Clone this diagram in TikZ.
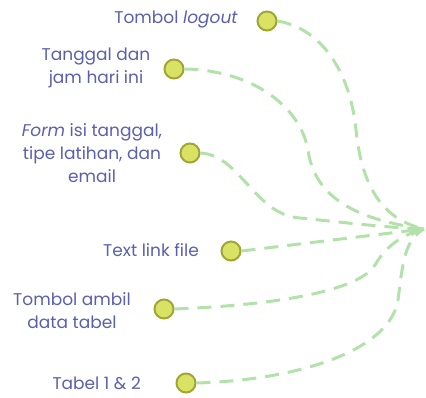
\documentclass[tikz,border=0pt]{standalone}
\usepackage{fontspec}
\setmainfont{Poppins}
\usetikzlibrary{arrows.meta}
\definecolor{labelblue}{HTML}{5A5FAE}
\definecolor{dotfill}{HTML}{D9E263}
\definecolor{dotedge}{HTML}{9FA635}
\definecolor{linkgreen}{HTML}{B2E2A9}
\tikzset{
  dot/.style={circle, fill=dotfill, draw=dotedge, line width=2pt, minimum size=19pt, inner sep=0pt},
  lbl/.style={text=labelblue, font=\fontsize{17}{23}\selectfont, align=center, inner sep=0pt},
  link/.style={draw=linkgreen, line width=3pt, dash pattern=on 14pt off 9pt},
}
\begin{document}
\begin{tikzpicture}[x=1pt, y=-1pt]
  \useasboundingbox (0,0) rectangle (426,398);
  % bullet dots
  \node[dot] (d1) at (267,21) {};
  \node[dot] (d2) at (174,69) {};
  \node[dot] (d3) at (190,153) {};
  \node[dot] (d4) at (231,251) {};
  \node[dot] (d5) at (164,309) {};
  \node[dot] (d6) at (186,383) {};
  % labels
  \node[lbl, anchor=east] (t1) at (238,20) {Tombol \textit{logout}};
  \node[lbl] (t2) at (96,68) {Tanggal dan\\jam hari ini};
  \node[lbl] (t3) at (92,153) {\textit{Form} isi tanggal,\\tipe latihan, dan\\email};
  \node[lbl, anchor=east] (t4) at (199,250) {Text link file};
  \node[lbl] (t5) at (72,311) {Tombol ambil\\data tabel};
  \node[lbl, anchor=east] (t6) at (141,383) {Tabel 1 \& 2};
  % common target of the links
  \coordinate (tip) at (424,229);
  \draw[link] (d1.east) .. controls (320,28) and (350,70) .. (356,130)
                        .. controls (362,190) and (385,220) .. (tip);
  \draw[link] (d2.east) .. controls (250,70) and (300,105) .. (308,150)
                        .. controls (315,200) and (360,220) .. (tip);
  \draw[link] (d3.east) .. controls (240,155) and (255,215) .. (300,218)
                        .. controls (340,222) and (390,228) .. (tip);
  \draw[link] (d5.east) .. controls (280,305) and (360,290) .. (375,265)
                        .. controls (385,248) and (400,235) .. (tip);
  \draw[link] (d6.east) .. controls (300,380) and (390,350) .. (398,300)
                        .. controls (403,260) and (405,240) .. (tip);
  \draw[link, -{Latex[length=13pt, width=12pt]}] (d4.east) -- (tip);
\end{tikzpicture}
\end{document}
